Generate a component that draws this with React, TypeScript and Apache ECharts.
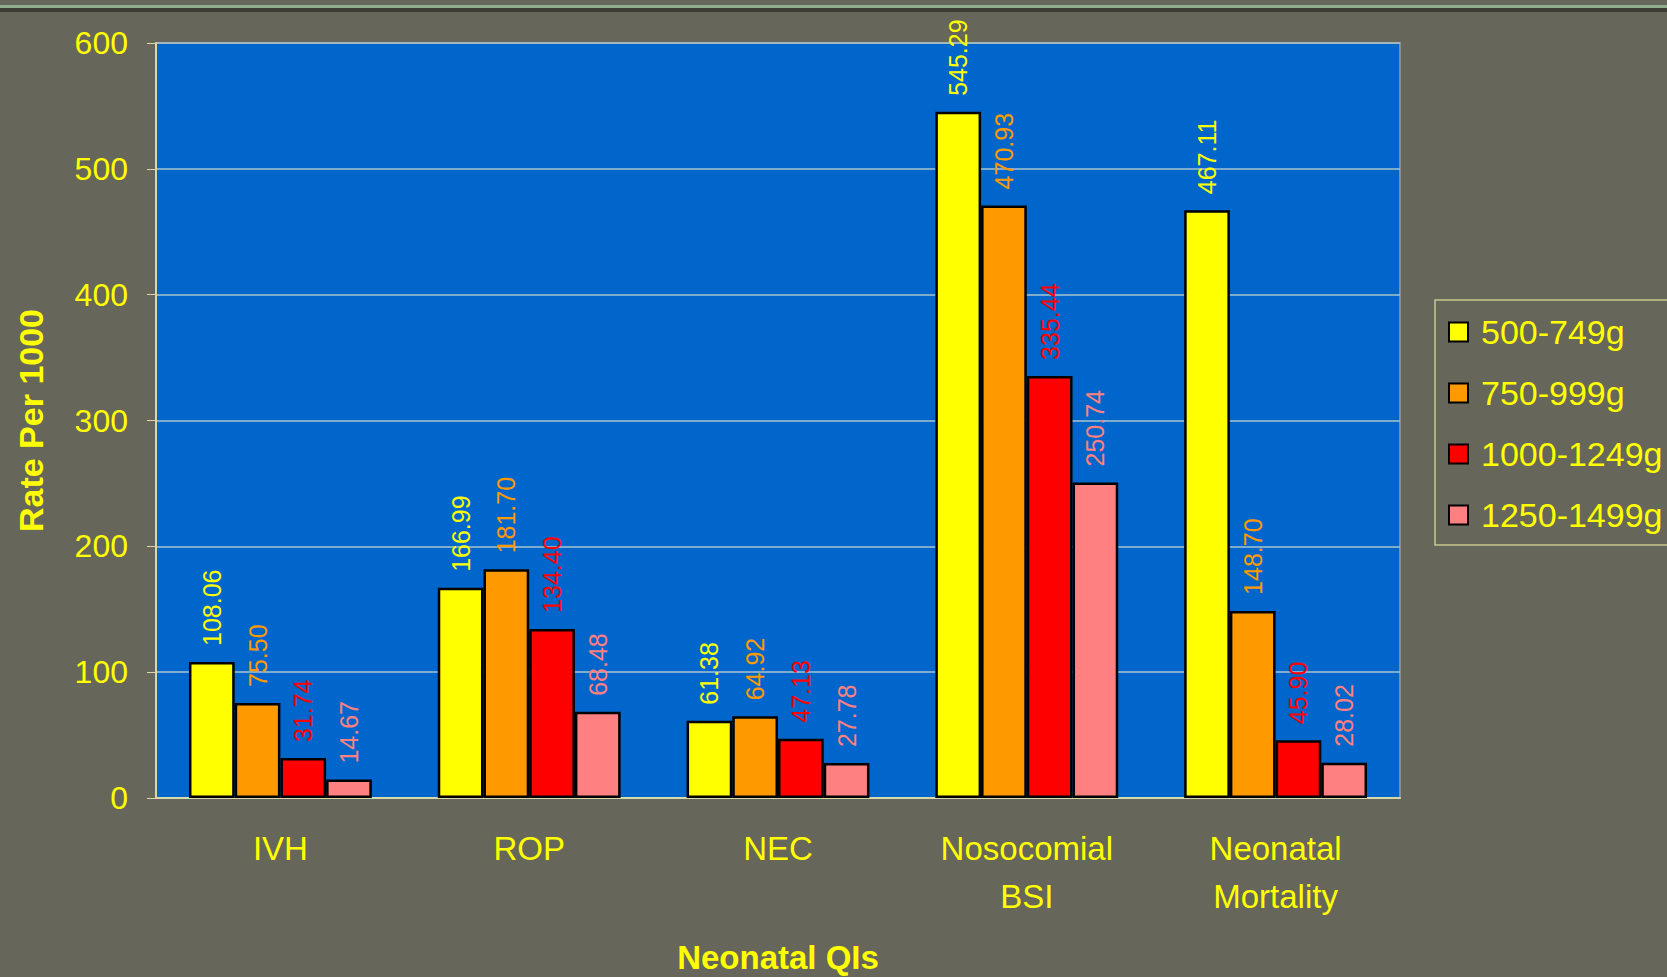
import React, { useEffect, useRef } from "react";
import * as echarts from "echarts";

const categories = ["IVH", "ROP", "NEC", "Nosocomial\nBSI", "Neonatal\nMortality"];
const seriesNames = ["500-749g", "750-999g", "1000-1249g", "1250-1499g"];
const seriesColors = ["#ffff00", "#ff9900", "#ff0000", "#ff8080"];
const s500 = [108.06, 166.99, 61.38, 545.29, 467.11];
const s750 = [75.5, 181.7, 64.92, 470.93, 148.7];
const s1000 = [31.74, 134.4, 47.13, 335.44, 45.9];
const s1250 = [14.67, 68.48, 27.78, 250.74, 28.02];
const seriesData = [s500, s750, s1000, s1250];
const yTicks = { min: 0, max: 600, interval: 100 };

const FONT = "'Liberation Sans', Arial, sans-serif";
const YELLOW = "#ffff00";
const AXIS = "#d8d8a8";

export default function App() {
  const ref = useRef<HTMLDivElement>(null);
  useEffect(() => {
    if (!ref.current) return;
    const chart = echarts.init(ref.current, null, { renderer: "svg" });
    chart.setOption({
      animation: false,
      backgroundColor: "#66665a",
      graphic: [
        { type: "rect", shape: { x: 0, y: 5, width: 1667, height: 3 }, style: { fill: "#8fae8c" } },
        { type: "rect", shape: { x: 0, y: 8, width: 1667, height: 4 }, style: { fill: "#3c3c33" } },
      ],
      grid: {
        left: 156,
        top: 43,
        right: 267,
        bottom: 179,
        outerBoundsMode: "none",
        containLabel: false,
        show: true,
        backgroundColor: "#0066cc",
        borderColor: "#8c8c8c",
        borderWidth: 2,
      },
      legend: {
        orient: "vertical",
        left: 1435,
        top: 300,
        padding: [15, 60, 13, 13],
        itemGap: 27,
        itemWidth: 19,
        itemHeight: 19,
        borderColor: "#c8c890",
        borderWidth: 1.5,
        icon: "rect",
        textStyle: { color: YELLOW, fontSize: 34, fontFamily: FONT, lineHeight: 32, padding: [0, 0, 0, 8] },
        data: seriesNames,
      },
      xAxis: {
        type: "category",
        data: categories,
        name: "Neonatal QIs",
        nameLocation: "middle",
        nameGap: 143,
        nameTextStyle: { color: YELLOW, fontSize: 33, lineHeight: 33, fontWeight: "bold", fontFamily: FONT },
        axisLine: { lineStyle: { color: AXIS, width: 2 } },
        axisTick: { lineStyle: { color: AXIS }, length: 10 },
        axisLabel: { color: YELLOW, fontSize: 33, fontFamily: FONT, lineHeight: 48, margin: 26 },
      },
      yAxis: {
        type: "value",
        min: yTicks.min,
        max: yTicks.max,
        interval: yTicks.interval,
        name: "Rate Per 1000",
        nameLocation: "middle",
        nameGap: 108,
        nameTextStyle: { color: YELLOW, fontSize: 34, fontWeight: "bold", fontFamily: FONT },
        axisLine: { show: true, lineStyle: { color: AXIS, width: 2 } },
        axisTick: { show: true, length: 9, lineStyle: { color: AXIS } },
        axisLabel: { color: YELLOW, fontSize: 32, fontFamily: FONT, margin: 28 },
        splitLine: { lineStyle: { color: "#a9c4d0", width: 1.5 } },
      },
      series: seriesNames.map((name, i) => ({
        type: "bar",
        name,
        data: seriesData[i],
        barGap: "0%",
        barCategoryGap: "26.5%",
        itemStyle: { color: seriesColors[i], borderColor: "#000", borderWidth: 2.5 },
        label: {
          show: true,
          position: "top",
          rotate: 90,
          align: "left",
          verticalAlign: "middle",
          distance: 16,
          color: seriesColors[i],
          fontSize: 25,
          fontFamily: FONT,
          formatter: (p: any) => Number(p.value).toFixed(2),
        },
      })),
    });
    return () => chart.dispose();
  }, []);
  return (
    <div
      ref={ref}
      style={{ position: "fixed", left: 0, top: 0, width: 1667, height: 977 }}
    />
  );
}
